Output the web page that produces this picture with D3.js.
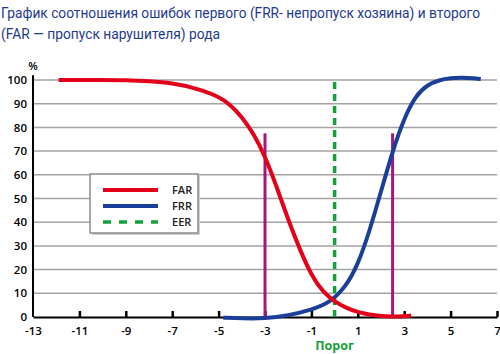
<!DOCTYPE html>
<html>
<head>
<meta charset="utf-8">
<script src="https://cdn.jsdelivr.net/npm/d3@7"></script>
<style>
  body { margin: 0; background: #fff; }
  svg { display: block; }
</style>
</head>
<body>
<div id="chart"></div>
<script>
// threshold values and error rates (%)
var farX = [-11.9, -10, -9, -8, -7, -6, -5, -4.5, -4, -3.5, -3, -2.5, -2, -1.5, -1, -0.5, 0, 0.5, 1, 1.5, 2, 2.5, 3, 3.3];
var farY = [100, 100, 99.9, 99.5, 98.7, 96.6, 93.2, 89.6, 84.5, 77.5, 68, 55, 41, 28.5, 17.5, 10.5, 6.5, 3.8, 2, 1, 0.4, 0.2, 0.3, 0.6];

var frrX = [-4.8, -4, -3, -2, -1, -0.2, 0.5, 1, 1.5, 2, 2.5, 3, 3.5, 4, 4.5, 5, 5.5, 6, 6.3];
var frrY = [-0.3, -0.6, -0.7, 0.6, 3, 6, 13, 22, 36, 53, 70, 84, 93.5, 98, 100, 100.8, 101, 100.7, 100.4];

var eerX = 0, eerTop = 100.8;
var markX = [-3, 2.5], markTop = 77.5;

var xTicks = [-13, -11, -9, -7, -5, -3, -1, 1, 3, 5, 7];
var yTicks = [0, 10, 20, 30, 40, 50, 60, 70, 80, 90, 100];

var legendNames = ["FAR", "FRR", "EER"];
var colors = { FAR: "#e3001b", FRR: "#1b3f98", EER: "#15a03a" };

var titleLines = [
  "График соотношения ошибок первого (FRR- непропуск хозяина) и второго",
  "(FAR — пропуск нарушителя) рода"
];

var width = 500, height = 354;
var svg = d3.select("#chart").append("svg")
    .attr("width", width)
    .attr("height", height);

var x = d3.scaleLinear().domain([-13, 7]).range([33, 497]);
var y = d3.scaleLinear().domain([0, 100]).range([317, 80]);

// title
svg.selectAll(".title")
    .data(titleLines)
    .enter().append("text")
    .attr("x", 1)
    .attr("y", function(d, i) { return 18 + i * 21; })
    .attr("textLength", function(d, i) { return i == 0 ? 479 : 219; })
    .attr("lengthAdjust", "spacingAndGlyphs")
    .attr("font-family", "Roboto, 'Open Sans', sans-serif")
    .attr("font-size", 14)
    .attr("fill", "#1f3a8e")
    .text(function(d) { return d; });

// grid
svg.append("g")
    .selectAll("line")
    .data(yTicks.slice(1))
    .enter().append("line")
    .attr("x1", x(-13)).attr("x2", x(7))
    .attr("y1", function(d) { return y(d); })
    .attr("y2", function(d) { return y(d); })
    .attr("stroke", "#a3a3a3")
    .attr("stroke-width", 1.5);

// y axis
var yAxis = d3.axisLeft(y).tickValues(yTicks).tickSize(0).tickPadding(6);
var gy = svg.append("g").attr("transform", "translate(" + x(-13) + ",0)").call(yAxis);
gy.select(".domain").remove();
gy.selectAll("text")
    .attr("font-family", "'Open Sans', sans-serif")
    .attr("font-weight", 600)
    .attr("font-size", 11.5)
    .attr("fill", "#000");

svg.append("line")
    .attr("x1", x(-13)).attr("x2", x(-13))
    .attr("y1", y(0)).attr("y2", y(102))
    .attr("stroke", "#000").attr("stroke-width", 2);

svg.append("text")
    .attr("x", x(-13)).attr("y", 70)
    .attr("text-anchor", "middle")
    .attr("font-family", "'Open Sans', sans-serif")
    .attr("font-weight", 600)
    .attr("font-size", 11)
    .text("%");

// x axis, ticks point up into the plot
var xAxis = d3.axisBottom(x).tickValues(xTicks).tickSize(0).tickPadding(10)
    .tickFormat(function(d) { return d; });
var gx = svg.append("g").attr("transform", "translate(0," + y(0) + ")").call(xAxis);
gx.select(".domain").attr("stroke", "#000").attr("stroke-width", 2);
gx.selectAll("text")
    .attr("font-family", "'Open Sans', sans-serif")
    .attr("font-weight", 600)
    .attr("font-size", 11.5)
    .attr("fill", "#000");
gx.selectAll(".tick")
    .filter(function(d) { return d != -13; })
    .append("line")
    .attr("y1", 0).attr("y2", -6)
    .attr("stroke", "#000").attr("stroke-width", 2.5);

svg.append("text")
    .attr("x", x(0)).attr("y", 350)
    .attr("text-anchor", "middle")
    .attr("font-family", "'Open Sans', sans-serif")
    .attr("font-weight", 700)
    .attr("font-size", 12.5)
    .attr("fill", colors.EER)
    .text("Порог");

// purple markers
svg.selectAll(".mark")
    .data(markX)
    .enter().append("line")
    .attr("x1", function(d) { return x(d); })
    .attr("x2", function(d) { return x(d); })
    .attr("y1", y(0)).attr("y2", y(markTop))
    .attr("stroke", "#a3177f")
    .attr("stroke-width", 3);

// EER line
svg.append("line")
    .attr("x1", x(eerX)).attr("x2", x(eerX))
    .attr("y1", y(0)).attr("y2", y(eerTop))
    .attr("stroke", colors.EER)
    .attr("stroke-width", 3.5)
    .attr("stroke-dasharray", "7,5");

var line = d3.line()
    .x(function(d) { return x(d[0]); })
    .y(function(d) { return y(d[1]); })
    .curve(d3.curveBasis);

svg.append("path")
    .datum(d3.zip(frrX, frrY))
    .attr("d", line)
    .attr("fill", "none")
    .attr("stroke", colors.FRR)
    .attr("stroke-width", 4);

svg.append("path")
    .datum(d3.zip(farX, farY))
    .attr("d", line)
    .attr("fill", "none")
    .attr("stroke", colors.FAR)
    .attr("stroke-width", 4);

// legend
var lg = svg.append("g").attr("transform", "translate(90,174)");
lg.append("rect")
    .attr("x", 2).attr("y", 2).attr("width", 108).attr("height", 59)
    .attr("fill", "#d0d0d0");
lg.append("rect")
    .attr("width", 108).attr("height", 59)
    .attr("fill", "#fff")
    .attr("stroke", "#8a8a8a")
    .attr("stroke-width", 1.5);

var items = lg.selectAll(".item")
    .data(legendNames)
    .enter().append("g")
    .attr("transform", function(d, i) { return "translate(0," + (16 + i * 16) + ")"; });

items.append("line")
    .attr("x1", 13).attr("x2", 68)
    .attr("stroke", function(d) { return colors[d]; })
    .attr("stroke-width", function(d) { return d == "EER" ? 3.5 : 4; })
    .attr("stroke-dasharray", function(d) { return d == "EER" ? "8,8" : null; });

items.append("text")
    .attr("x", 82).attr("y", 4)
    .attr("font-family", "'Open Sans', sans-serif")
    .attr("font-weight", 600)
    .attr("font-size", 11)
    .attr("fill", "#222")
    .text(function(d) { return d; });
</script>
</body>
</html>
